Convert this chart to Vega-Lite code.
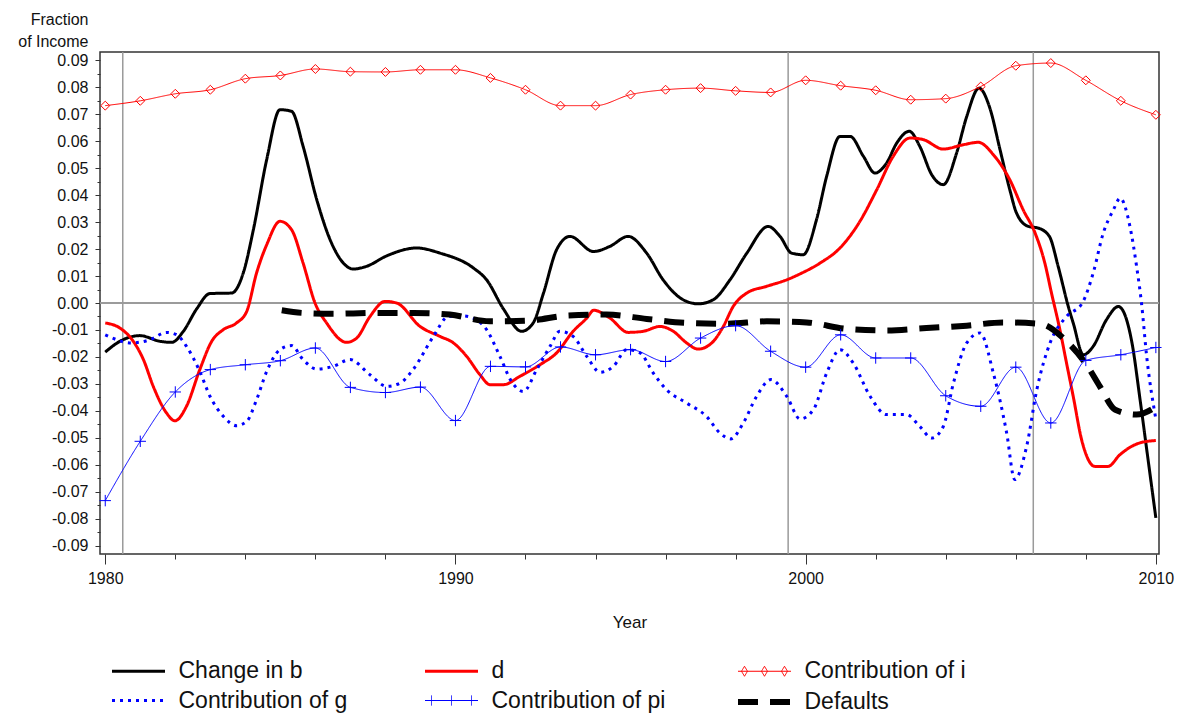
{
  "$schema": "https://vega.github.io/schema/vega-lite/v6.json",
  "width": 1059,
  "height": 502,
  "autosize": {"type": "none"},
  "padding": {"left": 100, "top": 52, "right": 30, "bottom": 163},
  "background": "white",
  "config": {
    "font": "Liberation Sans",
    "view": {"stroke": "#333333", "strokeWidth": 1.5},
    "axis": {"grid": false, "domain": false, "tickColor": "#333333", "labelColor": "#111111", "titleColor": "#111111", "titleFontWeight": "normal", "labelOverlap": false},
    "legend": {
      "orient": "none", "legendX": 9, "legendY": 607, "columns": 3, "direction": "horizontal", "gridAlign": "all",
      "symbolType": "stroke", "symbolSize": 400, "symbolOffset": 16.5, "symbolFillColor": "transparent",
      "labelFontSize": 23, "labelOffset": 27, "columnPadding": 60, "rowPadding": 5, "labelLimit": 400, "labelColor": "#111111"
    }
  },
  "resolve": {"scale": {"y": "independent"}, "axis": {"y": "independent"}},
  "datasets": {
    "refs": [{"year": 1980.5}, {"year": 1999.5}, {"year": 2006.5}],
    "lines": [
      {"series": "Change in b", "year": 1980.0, "value": -0.0182},
      {"series": "Change in b", "year": 1980.42, "value": -0.0142},
      {"series": "Change in b", "year": 1980.99, "value": -0.0121},
      {"series": "Change in b", "year": 1981.56, "value": -0.0142},
      {"series": "Change in b", "year": 1981.9, "value": -0.0146},
      {"series": "Change in b", "year": 1982.23, "value": -0.0105},
      {"series": "Change in b", "year": 1982.61, "value": -0.0022},
      {"series": "Change in b", "year": 1982.99, "value": 0.0035},
      {"series": "Change in b", "year": 1983.61, "value": 0.0037},
      {"series": "Change in b", "year": 1983.94, "value": 0.0111},
      {"series": "Change in b", "year": 1984.23, "value": 0.0272},
      {"series": "Change in b", "year": 1984.61, "value": 0.0532},
      {"series": "Change in b", "year": 1984.99, "value": 0.0717},
      {"series": "Change in b", "year": 1985.32, "value": 0.0711},
      {"series": "Change in b", "year": 1985.65, "value": 0.0581},
      {"series": "Change in b", "year": 1986.04, "value": 0.0383},
      {"series": "Change in b", "year": 1986.42, "value": 0.0235},
      {"series": "Change in b", "year": 1986.8, "value": 0.0148},
      {"series": "Change in b", "year": 1987.08, "value": 0.0126},
      {"series": "Change in b", "year": 1987.46, "value": 0.0136},
      {"series": "Change in b", "year": 1988.04, "value": 0.0175},
      {"series": "Change in b", "year": 1988.89, "value": 0.0204},
      {"series": "Change in b", "year": 1989.56, "value": 0.0185},
      {"series": "Change in b", "year": 1990.51, "value": 0.013},
      {"series": "Change in b", "year": 1990.89, "value": 0.0086},
      {"series": "Change in b", "year": 1991.37, "value": -0.0022},
      {"series": "Change in b", "year": 1991.89, "value": -0.0105},
      {"series": "Change in b", "year": 1992.22, "value": -0.0074},
      {"series": "Change in b", "year": 1992.51, "value": 0.0035},
      {"series": "Change in b", "year": 1992.89, "value": 0.0198},
      {"series": "Change in b", "year": 1993.27, "value": 0.0247},
      {"series": "Change in b", "year": 1993.94, "value": 0.0191},
      {"series": "Change in b", "year": 1994.41, "value": 0.021},
      {"series": "Change in b", "year": 1994.93, "value": 0.0247},
      {"series": "Change in b", "year": 1995.46, "value": 0.0185},
      {"series": "Change in b", "year": 1995.93, "value": 0.0086},
      {"series": "Change in b", "year": 1996.5, "value": 0.0012},
      {"series": "Change in b", "year": 1996.93, "value": -0.0003},
      {"series": "Change in b", "year": 1997.36, "value": 0.0012},
      {"series": "Change in b", "year": 1997.84, "value": 0.0086},
      {"series": "Change in b", "year": 1998.32, "value": 0.0185},
      {"series": "Change in b", "year": 1998.93, "value": 0.0284},
      {"series": "Change in b", "year": 1999.27, "value": 0.0247},
      {"series": "Change in b", "year": 1999.6, "value": 0.0185},
      {"series": "Change in b", "year": 1999.93, "value": 0.0179},
      {"series": "Change in b", "year": 2000.31, "value": 0.0309},
      {"series": "Change in b", "year": 2000.6, "value": 0.047},
      {"series": "Change in b", "year": 2000.98, "value": 0.0618},
      {"series": "Change in b", "year": 2001.27, "value": 0.0618},
      {"series": "Change in b", "year": 2001.65, "value": 0.0544},
      {"series": "Change in b", "year": 2001.98, "value": 0.0482},
      {"series": "Change in b", "year": 2002.31, "value": 0.0519},
      {"series": "Change in b", "year": 2002.6, "value": 0.0593},
      {"series": "Change in b", "year": 2002.96, "value": 0.0637},
      {"series": "Change in b", "year": 2003.26, "value": 0.0581},
      {"series": "Change in b", "year": 2003.6, "value": 0.0476},
      {"series": "Change in b", "year": 2003.93, "value": 0.0439},
      {"series": "Change in b", "year": 2004.31, "value": 0.0556},
      {"series": "Change in b", "year": 2004.6, "value": 0.0692},
      {"series": "Change in b", "year": 2004.95, "value": 0.0797},
      {"series": "Change in b", "year": 2005.26, "value": 0.0723},
      {"series": "Change in b", "year": 2005.55, "value": 0.0569},
      {"series": "Change in b", "year": 2005.83, "value": 0.042},
      {"series": "Change in b", "year": 2006.02, "value": 0.0334},
      {"series": "Change in b", "year": 2006.36, "value": 0.0284},
      {"series": "Change in b", "year": 2006.64, "value": 0.0278},
      {"series": "Change in b", "year": 2006.96, "value": 0.0247},
      {"series": "Change in b", "year": 2007.21, "value": 0.0136},
      {"series": "Change in b", "year": 2007.5, "value": -0.0013},
      {"series": "Change in b", "year": 2007.64, "value": -0.0074},
      {"series": "Change in b", "year": 2007.93, "value": -0.0192},
      {"series": "Change in b", "year": 2008.21, "value": -0.0161},
      {"series": "Change in b", "year": 2008.59, "value": -0.0062},
      {"series": "Change in b", "year": 2008.93, "value": -0.0013},
      {"series": "Change in b", "year": 2009.31, "value": -0.0142},
      {"series": "Change in b", "year": 2009.55, "value": -0.0359},
      {"series": "Change in b", "year": 2009.74, "value": -0.0544},
      {"series": "Change in b", "year": 2010.0, "value": -0.0797},

      {"series": "d", "year": 1980.0, "value": -0.0074},
      {"series": "d", "year": 1980.42, "value": -0.0093},
      {"series": "d", "year": 1980.8, "value": -0.0142},
      {"series": "d", "year": 1981.09, "value": -0.021},
      {"series": "d", "year": 1981.37, "value": -0.0309},
      {"series": "d", "year": 1981.75, "value": -0.0408},
      {"series": "d", "year": 1981.99, "value": -0.0437},
      {"series": "d", "year": 1982.32, "value": -0.0383},
      {"series": "d", "year": 1982.7, "value": -0.0247},
      {"series": "d", "year": 1983.04, "value": -0.0142},
      {"series": "d", "year": 1983.37, "value": -0.0099},
      {"series": "d", "year": 1983.75, "value": -0.0074},
      {"series": "d", "year": 1984.04, "value": -0.0031},
      {"series": "d", "year": 1984.32, "value": 0.0111},
      {"series": "d", "year": 1984.61, "value": 0.0216},
      {"series": "d", "year": 1984.99, "value": 0.0303},
      {"series": "d", "year": 1985.32, "value": 0.0272},
      {"series": "d", "year": 1985.65, "value": 0.0148},
      {"series": "d", "year": 1985.99, "value": 0.0},
      {"series": "d", "year": 1986.32, "value": -0.0074},
      {"series": "d", "year": 1986.89, "value": -0.0146},
      {"series": "d", "year": 1987.18, "value": -0.013},
      {"series": "d", "year": 1987.56, "value": -0.005},
      {"series": "d", "year": 1987.99, "value": 0.0006},
      {"series": "d", "year": 1988.32, "value": 0.0},
      {"series": "d", "year": 1988.99, "value": -0.0087},
      {"series": "d", "year": 1989.56, "value": -0.0124},
      {"series": "d", "year": 1989.94, "value": -0.0148},
      {"series": "d", "year": 1990.32, "value": -0.0198},
      {"series": "d", "year": 1990.7, "value": -0.0266},
      {"series": "d", "year": 1990.99, "value": -0.0303},
      {"series": "d", "year": 1991.37, "value": -0.0303},
      {"series": "d", "year": 1991.84, "value": -0.0272},
      {"series": "d", "year": 1992.41, "value": -0.0229},
      {"series": "d", "year": 1992.89, "value": -0.0185},
      {"series": "d", "year": 1993.36, "value": -0.0105},
      {"series": "d", "year": 1993.75, "value": -0.0056},
      {"series": "d", "year": 1993.95, "value": -0.0027},
      {"series": "d", "year": 1994.41, "value": -0.0056},
      {"series": "d", "year": 1994.93, "value": -0.0109},
      {"series": "d", "year": 1995.36, "value": -0.0105},
      {"series": "d", "year": 1995.84, "value": -0.0087},
      {"series": "d", "year": 1996.22, "value": -0.0105},
      {"series": "d", "year": 1996.6, "value": -0.0148},
      {"series": "d", "year": 1996.93, "value": -0.0171},
      {"series": "d", "year": 1997.32, "value": -0.0148},
      {"series": "d", "year": 1997.65, "value": -0.0087},
      {"series": "d", "year": 1997.93, "value": -0.0013},
      {"series": "d", "year": 1998.32, "value": 0.0037},
      {"series": "d", "year": 1998.89, "value": 0.0062},
      {"series": "d", "year": 1999.46, "value": 0.0086},
      {"series": "d", "year": 1999.84, "value": 0.0108},
      {"series": "d", "year": 2000.41, "value": 0.0148},
      {"series": "d", "year": 2000.98, "value": 0.0204},
      {"series": "d", "year": 2001.55, "value": 0.0303},
      {"series": "d", "year": 2002.03, "value": 0.042},
      {"series": "d", "year": 2002.5, "value": 0.0544},
      {"series": "d", "year": 2002.98, "value": 0.0612},
      {"series": "d", "year": 2003.36, "value": 0.0606},
      {"series": "d", "year": 2003.93, "value": 0.0571},
      {"series": "d", "year": 2004.5, "value": 0.0587},
      {"series": "d", "year": 2004.93, "value": 0.0596},
      {"series": "d", "year": 2005.36, "value": 0.055},
      {"series": "d", "year": 2005.83, "value": 0.0457},
      {"series": "d", "year": 2006.21, "value": 0.0346},
      {"series": "d", "year": 2006.55, "value": 0.026},
      {"series": "d", "year": 2006.83, "value": 0.0148},
      {"series": "d", "year": 2007.02, "value": 0.0037},
      {"series": "d", "year": 2007.26, "value": -0.0099},
      {"series": "d", "year": 2007.45, "value": -0.0223},
      {"series": "d", "year": 2007.64, "value": -0.0346},
      {"series": "d", "year": 2007.88, "value": -0.0507},
      {"series": "d", "year": 2008.26, "value": -0.0606},
      {"series": "d", "year": 2008.64, "value": -0.0606},
      {"series": "d", "year": 2008.97, "value": -0.0563},
      {"series": "d", "year": 2009.54, "value": -0.0519},
      {"series": "d", "year": 2010.0, "value": -0.051},

      {"series": "Contribution of g", "year": 1980.0, "value": -0.0118},
      {"series": "Contribution of g", "year": 1980.75, "value": -0.0148},
      {"series": "Contribution of g", "year": 1981.28, "value": -0.0136},
      {"series": "Contribution of g", "year": 1981.75, "value": -0.0109},
      {"series": "Contribution of g", "year": 1982.04, "value": -0.0118},
      {"series": "Contribution of g", "year": 1982.32, "value": -0.0161},
      {"series": "Contribution of g", "year": 1982.7, "value": -0.0254},
      {"series": "Contribution of g", "year": 1982.99, "value": -0.0346},
      {"series": "Contribution of g", "year": 1983.37, "value": -0.042},
      {"series": "Contribution of g", "year": 1983.75, "value": -0.0455},
      {"series": "Contribution of g", "year": 1984.04, "value": -0.0439},
      {"series": "Contribution of g", "year": 1984.32, "value": -0.0359},
      {"series": "Contribution of g", "year": 1984.61, "value": -0.0254},
      {"series": "Contribution of g", "year": 1984.99, "value": -0.0173},
      {"series": "Contribution of g", "year": 1985.32, "value": -0.0158},
      {"series": "Contribution of g", "year": 1985.65, "value": -0.021},
      {"series": "Contribution of g", "year": 1986.04, "value": -0.0245},
      {"series": "Contribution of g", "year": 1986.51, "value": -0.0235},
      {"series": "Contribution of g", "year": 1986.99, "value": -0.021},
      {"series": "Contribution of g", "year": 1987.56, "value": -0.0266},
      {"series": "Contribution of g", "year": 1988.04, "value": -0.0309},
      {"series": "Contribution of g", "year": 1988.42, "value": -0.0297},
      {"series": "Contribution of g", "year": 1988.79, "value": -0.0247},
      {"series": "Contribution of g", "year": 1989.37, "value": -0.0124},
      {"series": "Contribution of g", "year": 1989.8, "value": -0.005},
      {"series": "Contribution of g", "year": 1990.2, "value": -0.0048},
      {"series": "Contribution of g", "year": 1990.5, "value": -0.0056},
      {"series": "Contribution of g", "year": 1990.89, "value": -0.0099},
      {"series": "Contribution of g", "year": 1991.27, "value": -0.0198},
      {"series": "Contribution of g", "year": 1991.6, "value": -0.0291},
      {"series": "Contribution of g", "year": 1991.94, "value": -0.0328},
      {"series": "Contribution of g", "year": 1992.32, "value": -0.0247},
      {"series": "Contribution of g", "year": 1992.7, "value": -0.0161},
      {"series": "Contribution of g", "year": 1992.98, "value": -0.0105},
      {"series": "Contribution of g", "year": 1993.36, "value": -0.0124},
      {"series": "Contribution of g", "year": 1993.75, "value": -0.0198},
      {"series": "Contribution of g", "year": 1994.13, "value": -0.0257},
      {"series": "Contribution of g", "year": 1994.51, "value": -0.0235},
      {"series": "Contribution of g", "year": 1994.89, "value": -0.0173},
      {"series": "Contribution of g", "year": 1995.27, "value": -0.0185},
      {"series": "Contribution of g", "year": 1995.65, "value": -0.026},
      {"series": "Contribution of g", "year": 1996.03, "value": -0.0322},
      {"series": "Contribution of g", "year": 1996.6, "value": -0.0371},
      {"series": "Contribution of g", "year": 1997.17, "value": -0.0421},
      {"series": "Contribution of g", "year": 1997.55, "value": -0.0482},
      {"series": "Contribution of g", "year": 1997.86, "value": -0.0504},
      {"series": "Contribution of g", "year": 1998.22, "value": -0.0445},
      {"series": "Contribution of g", "year": 1998.6, "value": -0.0346},
      {"series": "Contribution of g", "year": 1999.01, "value": -0.0284},
      {"series": "Contribution of g", "year": 1999.46, "value": -0.0346},
      {"series": "Contribution of g", "year": 1999.84, "value": -0.043},
      {"series": "Contribution of g", "year": 2000.22, "value": -0.0396},
      {"series": "Contribution of g", "year": 2000.6, "value": -0.026},
      {"series": "Contribution of g", "year": 2000.98, "value": -0.0173},
      {"series": "Contribution of g", "year": 2001.36, "value": -0.0223},
      {"series": "Contribution of g", "year": 2001.84, "value": -0.0346},
      {"series": "Contribution of g", "year": 2002.31, "value": -0.0414},
      {"series": "Contribution of g", "year": 2002.88, "value": -0.0414},
      {"series": "Contribution of g", "year": 2003.26, "value": -0.0458},
      {"series": "Contribution of g", "year": 2003.6, "value": -0.0501},
      {"series": "Contribution of g", "year": 2003.93, "value": -0.0458},
      {"series": "Contribution of g", "year": 2004.22, "value": -0.0297},
      {"series": "Contribution of g", "year": 2004.6, "value": -0.0148},
      {"series": "Contribution of g", "year": 2004.98, "value": -0.0111},
      {"series": "Contribution of g", "year": 2005.36, "value": -0.026},
      {"series": "Contribution of g", "year": 2005.74, "value": -0.0482},
      {"series": "Contribution of g", "year": 2005.97, "value": -0.0655},
      {"series": "Contribution of g", "year": 2006.31, "value": -0.0532},
      {"series": "Contribution of g", "year": 2006.6, "value": -0.0322},
      {"series": "Contribution of g", "year": 2006.98, "value": -0.0148},
      {"series": "Contribution of g", "year": 2007.45, "value": -0.005},
      {"series": "Contribution of g", "year": 2007.9, "value": 0.0},
      {"series": "Contribution of g", "year": 2008.21, "value": 0.0111},
      {"series": "Contribution of g", "year": 2008.5, "value": 0.026},
      {"series": "Contribution of g", "year": 2008.79, "value": 0.0346},
      {"series": "Contribution of g", "year": 2008.98, "value": 0.0389},
      {"series": "Contribution of g", "year": 2009.26, "value": 0.0284},
      {"series": "Contribution of g", "year": 2009.45, "value": 0.0136},
      {"series": "Contribution of g", "year": 2009.59, "value": 0.0},
      {"series": "Contribution of g", "year": 2009.74, "value": -0.02},
      {"series": "Contribution of g", "year": 2010.0, "value": -0.043},

      {"series": "Defaults", "year": 1985.04, "value": -0.0027},
      {"series": "Defaults", "year": 1985.65, "value": -0.0037},
      {"series": "Defaults", "year": 1986.51, "value": -0.004},
      {"series": "Defaults", "year": 1987.65, "value": -0.0037},
      {"series": "Defaults", "year": 1988.8, "value": -0.0037},
      {"series": "Defaults", "year": 1989.84, "value": -0.0043},
      {"series": "Defaults", "year": 1990.98, "value": -0.0068},
      {"series": "Defaults", "year": 1992.12, "value": -0.0065},
      {"series": "Defaults", "year": 1993.18, "value": -0.0047},
      {"series": "Defaults", "year": 1994.32, "value": -0.0043},
      {"series": "Defaults", "year": 1995.46, "value": -0.0059},
      {"series": "Defaults", "year": 1996.6, "value": -0.0074},
      {"series": "Defaults", "year": 1997.74, "value": -0.0077},
      {"series": "Defaults", "year": 1998.89, "value": -0.0068},
      {"series": "Defaults", "year": 2000.03, "value": -0.0072},
      {"series": "Defaults", "year": 2001.17, "value": -0.0096},
      {"series": "Defaults", "year": 2002.31, "value": -0.0102},
      {"series": "Defaults", "year": 2003.45, "value": -0.0093},
      {"series": "Defaults", "year": 2004.6, "value": -0.0084},
      {"series": "Defaults", "year": 2005.64, "value": -0.0072},
      {"series": "Defaults", "year": 2006.69, "value": -0.0077},
      {"series": "Defaults", "year": 2007.45, "value": -0.0142},
      {"series": "Defaults", "year": 2008.02, "value": -0.0229},
      {"series": "Defaults", "year": 2008.4, "value": -0.0309},
      {"series": "Defaults", "year": 2008.84, "value": -0.0396},
      {"series": "Defaults", "year": 2009.45, "value": -0.0414},
      {"series": "Defaults", "year": 2010.0, "value": -0.0385},

      {"series": "Contribution of i", "year": 1980, "value": 0.0732},
      {"series": "Contribution of i", "year": 1981, "value": 0.075},
      {"series": "Contribution of i", "year": 1982, "value": 0.0776},
      {"series": "Contribution of i", "year": 1983, "value": 0.0791},
      {"series": "Contribution of i", "year": 1984, "value": 0.0832},
      {"series": "Contribution of i", "year": 1985, "value": 0.0844},
      {"series": "Contribution of i", "year": 1986, "value": 0.0868},
      {"series": "Contribution of i", "year": 1987, "value": 0.0858},
      {"series": "Contribution of i", "year": 1988, "value": 0.0857},
      {"series": "Contribution of i", "year": 1989, "value": 0.0865},
      {"series": "Contribution of i", "year": 1990, "value": 0.0865},
      {"series": "Contribution of i", "year": 1991, "value": 0.0835},
      {"series": "Contribution of i", "year": 1992, "value": 0.0791},
      {"series": "Contribution of i", "year": 1993, "value": 0.0732},
      {"series": "Contribution of i", "year": 1994, "value": 0.0732},
      {"series": "Contribution of i", "year": 1995, "value": 0.0773},
      {"series": "Contribution of i", "year": 1996, "value": 0.0791},
      {"series": "Contribution of i", "year": 1997, "value": 0.0797},
      {"series": "Contribution of i", "year": 1998, "value": 0.0787},
      {"series": "Contribution of i", "year": 1999, "value": 0.0781},
      {"series": "Contribution of i", "year": 2000, "value": 0.0826},
      {"series": "Contribution of i", "year": 2001, "value": 0.0806},
      {"series": "Contribution of i", "year": 2002, "value": 0.0789},
      {"series": "Contribution of i", "year": 2003, "value": 0.0754},
      {"series": "Contribution of i", "year": 2004, "value": 0.0758},
      {"series": "Contribution of i", "year": 2005, "value": 0.0803},
      {"series": "Contribution of i", "year": 2006, "value": 0.088},
      {"series": "Contribution of i", "year": 2007, "value": 0.089},
      {"series": "Contribution of i", "year": 2008, "value": 0.0826},
      {"series": "Contribution of i", "year": 2009, "value": 0.075},
      {"series": "Contribution of i", "year": 2010, "value": 0.0698},
      {"series": "Contribution of pi", "year": 1980, "value": -0.0733},
      {"series": "Contribution of pi", "year": 1981, "value": -0.0513},
      {"series": "Contribution of pi", "year": 1982, "value": -0.033},
      {"series": "Contribution of pi", "year": 1983, "value": -0.0247},
      {"series": "Contribution of pi", "year": 1984, "value": -0.0229},
      {"series": "Contribution of pi", "year": 1985, "value": -0.0214},
      {"series": "Contribution of pi", "year": 1986, "value": -0.0167},
      {"series": "Contribution of pi", "year": 1987, "value": -0.0313},
      {"series": "Contribution of pi", "year": 1988, "value": -0.0332},
      {"series": "Contribution of pi", "year": 1989, "value": -0.0312},
      {"series": "Contribution of pi", "year": 1990, "value": -0.0436},
      {"series": "Contribution of pi", "year": 1991, "value": -0.0235},
      {"series": "Contribution of pi", "year": 1992, "value": -0.0237},
      {"series": "Contribution of pi", "year": 1993, "value": -0.0163},
      {"series": "Contribution of pi", "year": 1994, "value": -0.0192},
      {"series": "Contribution of pi", "year": 1995, "value": -0.0173},
      {"series": "Contribution of pi", "year": 1996, "value": -0.0217},
      {"series": "Contribution of pi", "year": 1997, "value": -0.013},
      {"series": "Contribution of pi", "year": 1998, "value": -0.0084},
      {"series": "Contribution of pi", "year": 1999, "value": -0.0179},
      {"series": "Contribution of pi", "year": 2000, "value": -0.0238},
      {"series": "Contribution of pi", "year": 2001, "value": -0.0118},
      {"series": "Contribution of pi", "year": 2002, "value": -0.0204},
      {"series": "Contribution of pi", "year": 2003, "value": -0.0204},
      {"series": "Contribution of pi", "year": 2004, "value": -0.0344},
      {"series": "Contribution of pi", "year": 2005, "value": -0.0383},
      {"series": "Contribution of pi", "year": 2006, "value": -0.0238},
      {"series": "Contribution of pi", "year": 2007, "value": -0.0445},
      {"series": "Contribution of pi", "year": 2008, "value": -0.0213},
      {"series": "Contribution of pi", "year": 2009, "value": -0.0192},
      {"series": "Contribution of pi", "year": 2010, "value": -0.0165}
    ]
  },
  "layer": [
    {
      "data": {"name": "refs"},
      "mark": {"type": "rule", "color": "#9a9a9a", "strokeWidth": 1.5},
      "encoding": {"x": {"field": "year", "type": "quantitative"}}
    },
    {
      "data": {"name": "refs"},
      "mark": {"type": "rule", "color": "#9a9a9a", "strokeWidth": 1.5},
      "encoding": {
        "y": {
          "datum": 0, "type": "quantitative",
          "scale": {"domain": [-0.0931, 0.0931], "nice": false, "zero": false},
          "axis": {
            "orient": "left", "title": null, "labels": false, "tickSize": 3, "domain": false,
            "values": [-0.085,-0.075,-0.065,-0.055,-0.045,-0.035,-0.025,-0.015,-0.005,0.005,0.015,0.025,0.035,0.045,0.055,0.065,0.075,0.085]
          }
        }
      }
    },
    {
      "data": {"name": "lines"},
      "mark": {"type": "line", "interpolate": "monotone"},
      "encoding": {
        "x": {
          "field": "year", "type": "quantitative", "title": "Year",
          "scale": {"domain": [1979.85, 2010.09], "nice": false, "zero": false},
          "axis": {
            "values": [1980,1981,1982,1983,1984,1985,1986,1987,1988,1989,1990,1991,1992,1993,1994,1995,1996,1997,1998,1999,2000,2001,2002,2003,2004,2005,2006,2007,2008,2009,2010],
            "labelExpr": "datum.value % 10 === 0 ? format(datum.value, 'd') : ''",
            "tickSize": {"condition": {"test": "datum.value % 10 === 0", "value": 10}, "value": 5},
            "labelFontSize": 16, "labelPadding": 6, "titleFontSize": 17, "titlePadding": 28, "labelFlush": false, "labelOverlap": false
          }
        },
        "y": {
          "field": "value", "type": "quantitative",
          "scale": {"domain": [-0.0931, 0.0931], "nice": false, "zero": false},
          "axis": {
            "orient": "left",
            "title": ["Fraction", "of Income"],
            "values": [-0.09,-0.08,-0.07,-0.06,-0.05,-0.04,-0.03,-0.02,-0.01,0,0.01,0.02,0.03,0.04,0.05,0.06,0.07,0.08,0.09],
            "labelExpr": "(datum.value < 0 ? '-' : '') + format(abs(datum.value), '.2f')",
            "tickSize": 5,
            "labelFontSize": 16, "labelPadding": 7, "labelFlush": false, "labelOverlap": false,
            "titleAngle": 0, "titleAlign": "right", "titleBaseline": "alphabetic", "titleX": -12, "titleY": -28,
            "titleFontSize": 16, "titleLineHeight": 22
          }
        },
        "color": {
          "field": "series", "type": "nominal", "title": null,
          "scale": {
            "domain": ["Change in b", "d", "Contribution of i", "Contribution of g", "Contribution of pi", "Defaults"],
            "range": ["#000000", "#ff0000", "#ff0000", "#0000ff", "#0000ff", "#000000"]
          },
          "legend": {
            "encode": {
              "symbols": {
                "update": {
                  "shape": {"signal": "datum.value === 'Contribution of i' ? 'M-2.65,0H2.65M-2.3,0L-2,-0.5L-1.7,0L-2,0.5ZM-0.3,0L0,-0.5L0.3,0L0,0.5ZM1.7,0L2,-0.5L2.3,0L2,0.5Z' : datum.value === 'Contribution of pi' ? 'M-2.65,0H2.65M-2,-0.5V0.5M0,-0.5V0.5M2,-0.5V0.5' : 'M-2.65,0H2.65'"},
                  "fill": {"value": "transparent"}
                }
              }
            }
          }
        },
        "strokeDash": {
          "field": "series", "type": "nominal", "title": null,
          "scale": {
            "domain": ["Change in b", "d", "Contribution of i", "Contribution of g", "Contribution of pi", "Defaults"],
            "range": [[1, 0], [1, 0], [1, 0], [3, 5], [1, 0], [20, 12]]
          }
        },
        "strokeWidth": {
          "field": "series", "type": "nominal", "title": null,
          "scale": {
            "type": "ordinal",
            "domain": ["Change in b", "d", "Contribution of i", "Contribution of g", "Contribution of pi", "Defaults"],
            "range": [3, 3, 1, 3, 1, 6]
          }
        }
      }
    },
    {
      "data": {"name": "lines"},
      "transform": [{"filter": "datum.series === 'Contribution of i'"}],
      "mark": {"type": "point", "shape": "diamond", "filled": false, "color": "#ff0000", "strokeWidth": 1, "size": 80, "opacity": 1},
      "encoding": {
        "x": {"field": "year", "type": "quantitative"},
        "y": {"field": "value", "type": "quantitative", "scale": {"domain": [-0.0931, 0.0931], "nice": false, "zero": false}, "axis": null}
      }
    },
    {
      "data": {"name": "lines"},
      "transform": [{"filter": "datum.series === 'Contribution of pi'"}],
      "mark": {"type": "point", "shape": "M-1,0L1,0M0,-1L0,1", "filled": false, "color": "#0000ff", "strokeWidth": 1, "size": 130, "opacity": 1},
      "encoding": {
        "x": {"field": "year", "type": "quantitative"},
        "y": {"field": "value", "type": "quantitative", "scale": {"domain": [-0.0931, 0.0931], "nice": false, "zero": false}, "axis": null}
      }
    }
  ]
}
